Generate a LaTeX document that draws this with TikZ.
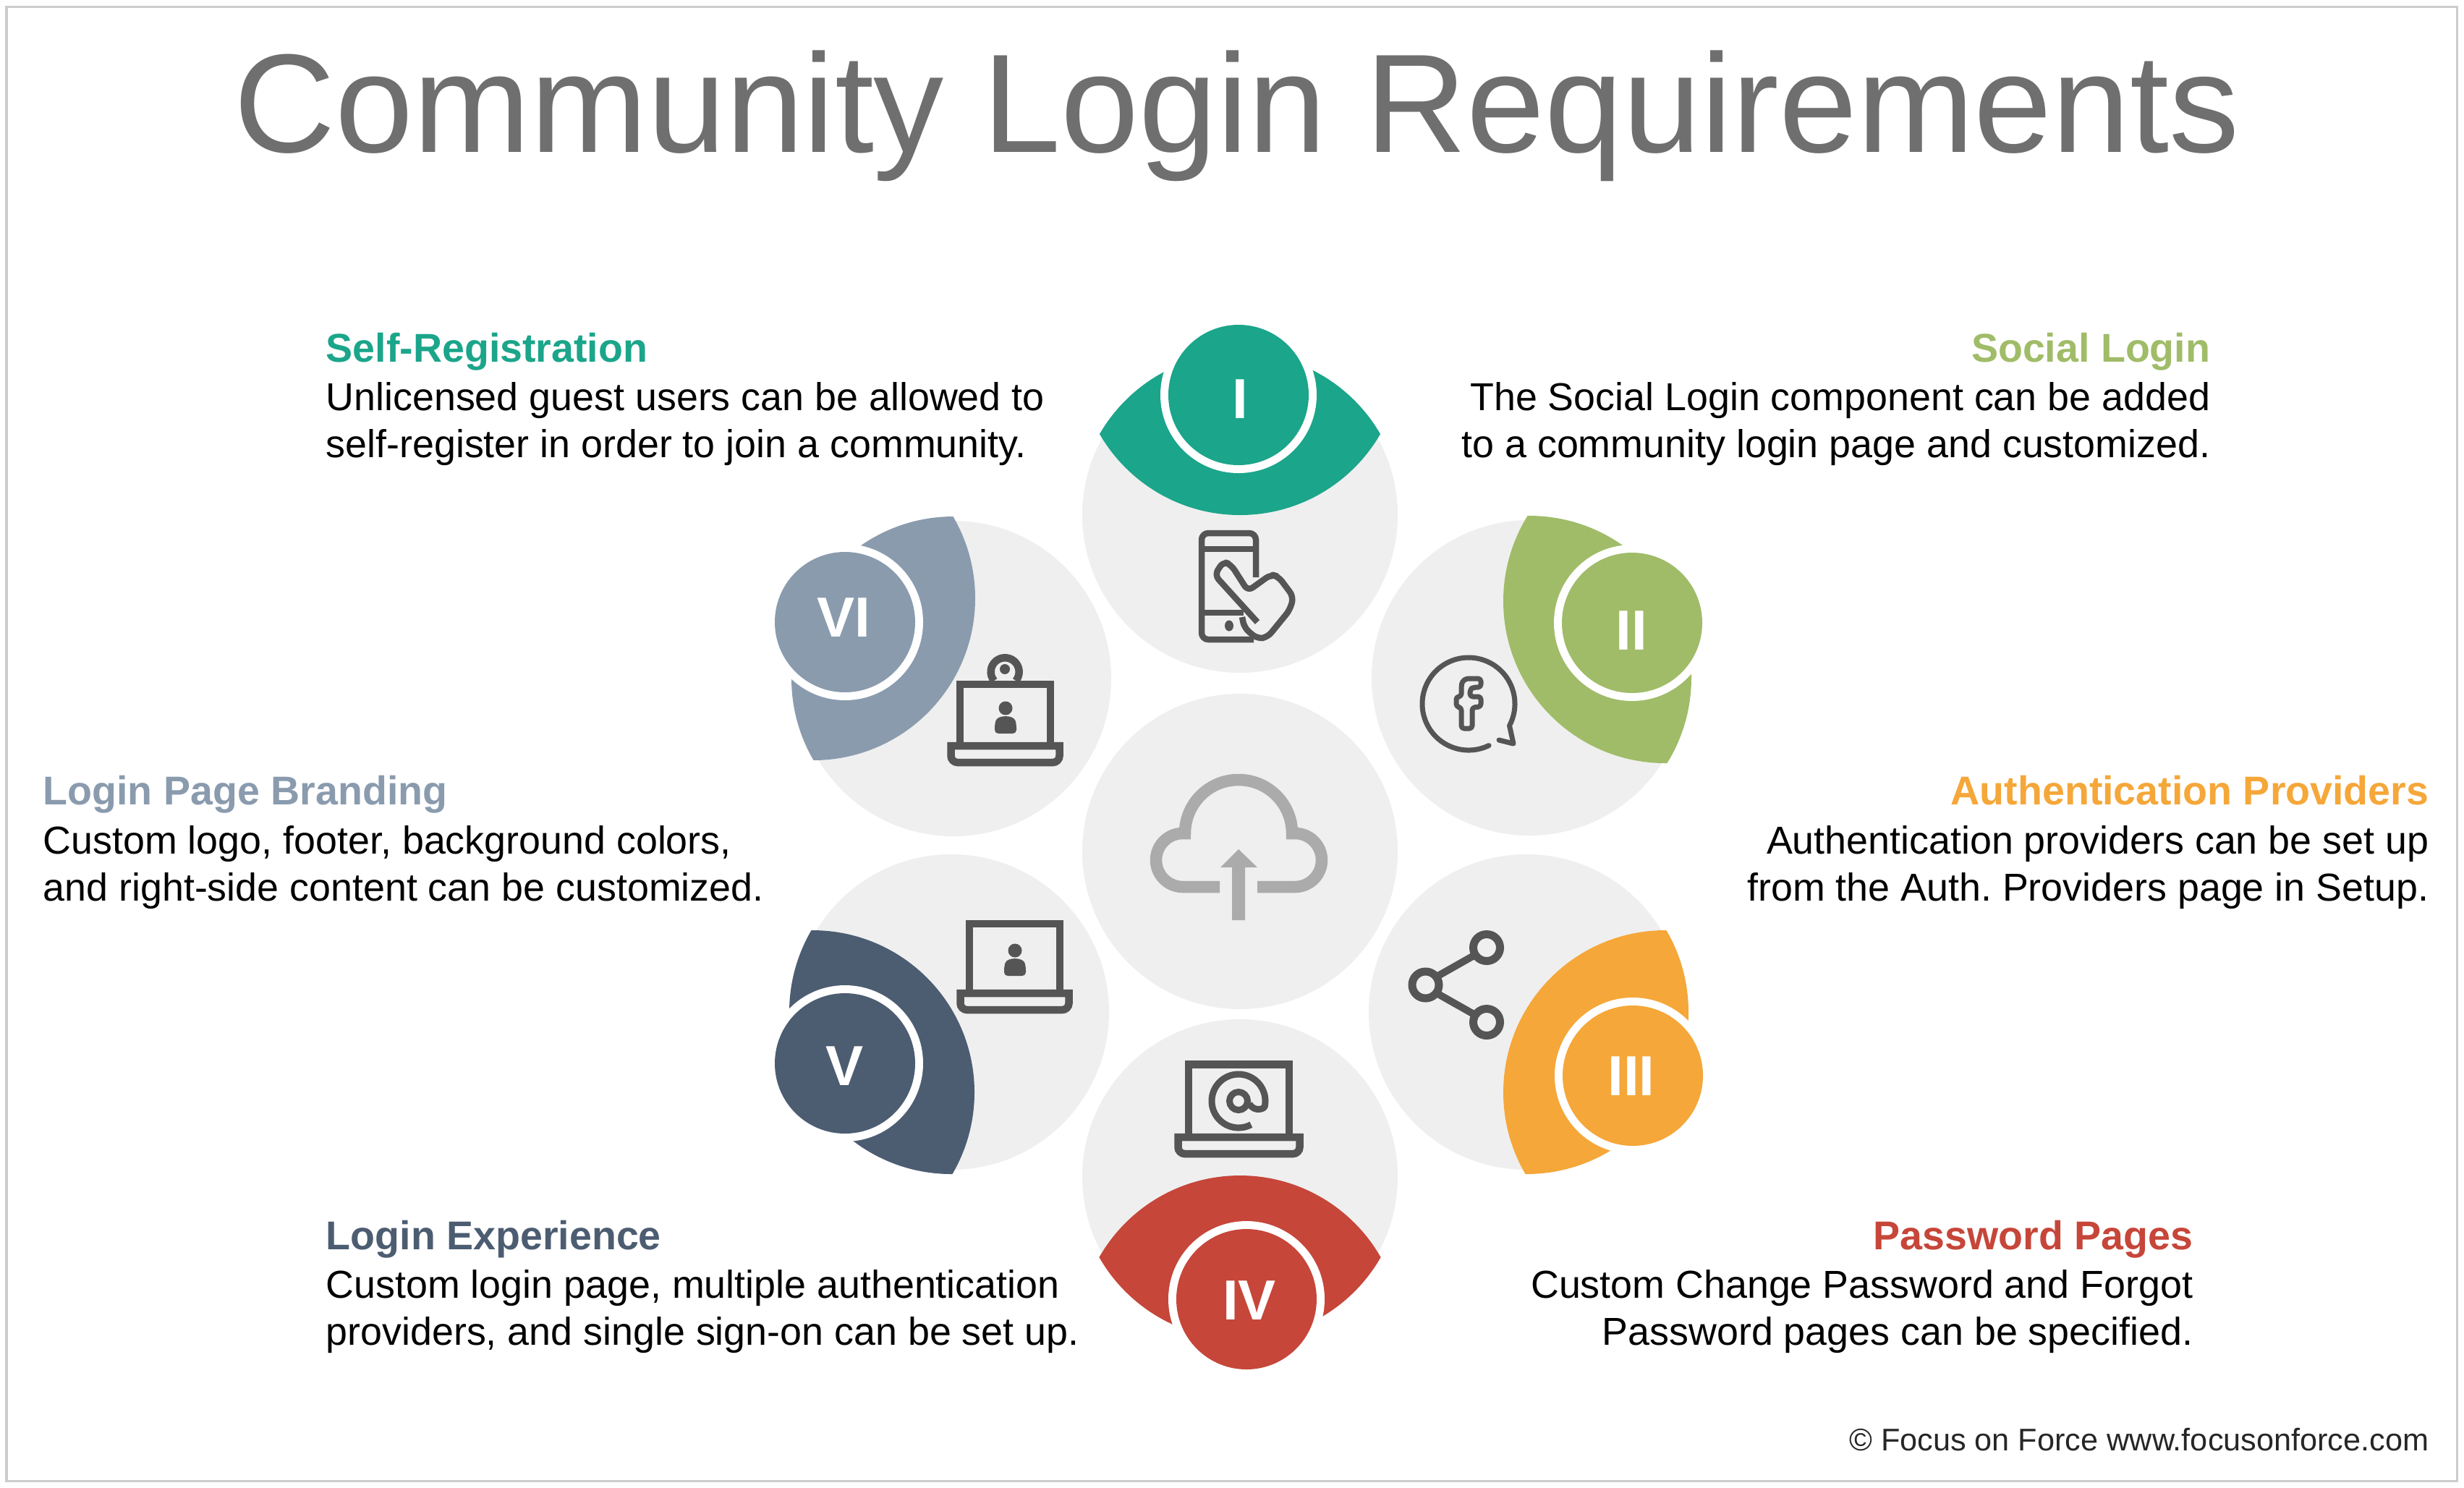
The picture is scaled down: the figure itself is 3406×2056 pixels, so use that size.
\documentclass[tikz,border=0pt]{standalone}
\usepackage{fontspec}
\setmainfont{Liberation Sans}
\definecolor{greenI}{HTML}{1BA58A}
\definecolor{greenII}{HTML}{A0BC68}
\definecolor{orangeIII}{HTML}{F5A739}
\definecolor{redIV}{HTML}{C64639}
\definecolor{navyV}{HTML}{4C5D72}
\definecolor{steelVI}{HTML}{8A9BAE}
\definecolor{discgray}{HTML}{EFEFEF}
\definecolor{icondark}{HTML}{555555}
\definecolor{cloudgray}{HTML}{ABABAB}
\definecolor{titlegray}{HTML}{6F6F6F}
\tikzset{
	iconline/.style={line width=0.085cm, color=icondark, line join=round},
	laptopline/.style={line width=0.105cm, color=icondark, line join=miter},
	cloudline/.style={line width=0.165cm, color=cloudgray, line join=miter},
	numeral/.style={text=white, inner sep=0pt, font=\fontsize{22.2pt}{24pt}\selectfont\bfseries},
	heading/.style={inner sep=0pt, anchor=base, font=\fontsize{15.8pt}{20pt}\selectfont\bfseries},
	blurb/.style={inner sep=0pt, text=black, font=\fontsize{15.3pt}{18.5pt}\selectfont},
}
% gray disc, lens cut from it, white ring and number disc
\def\leaf#1(#2)(#3)(#4){
	\fill[discgray] (#2) circle (218);
	\begin{scope}
		\clip (#2) circle (224);
		\fill[#1] (#3) circle (224);
	\end{scope}
	\fill[white] (#4) circle (108);
	\fill[#1] (#4) circle (97);
}
% centre x, top of keyboard y, half width, screen height, half width of keyboard
\def\laptopicon(#1,#2)(#3:#4:#5){
	\draw[laptopline] (#1-#3,#2) -- (#1-#3,#2-#4) -- (#1+#3,#2-#4) -- (#1+#3,#2);
	\draw[laptopline] (#1-#5,#2+28) [rounded corners=2.6pt] -- (#1+#5,#2+28) [sharp corners] -- (#1+#5,#2+5) -- (#1-#5,#2+5) [rounded corners=2.6pt] -- cycle;
}
\def\personicon(#1,#2){
	\fill[icondark] (#1,#2) circle (9.5);
	\fill[icondark,rounded corners=1.4pt] (#1-15,#2+35) -- (#1-15,#2+22) .. controls (#1-11,#2+9) and (#1+11,#2+9) .. (#1+15,#2+22) -- (#1+15,#2+35) -- cycle;
}

\begin{document}
\frenchspacing
\begin{tikzpicture}[x=0.01cm,y=-0.01cm]
	%%%%% FRAME %%%%%
	\useasboundingbox (0,0) rectangle (3406,2056);
	\draw[line width=0.03cm, color=black!20, fill=white] (9,9) rectangle (3396,2047);

	\node[inner sep=0pt, anchor=base, text=titlegray, font=\fontsize{55.2pt}{60pt}\selectfont] (title) at (1710,210) {Community Login Requirements};

	%%%%% LEAVES %%%%%
	\fill[discgray] (1714,1177) circle (218);
	\leaf{greenI}(1714,712)(1714,488)(1712,546)
	\leaf{greenII}(2114,937)(2302,831)(2256,861)
	\leaf{orangeIII}(2110,1399)(2302,1510)(2257,1487)
	\leaf{redIV}(1714,1627)(1714,1849)(1723,1796)
	\leaf{navyV}(1315,1399)(1123,1510)(1168,1470)
	\leaf{steelVI}(1318,938)(1124,827)(1168,860)

	\node[numeral] (numI) at (1714,552) {I};
	\node[numeral] (numII) at (2255,872) {II};
	\node[numeral] (numIII) at (2255,1488) {III};
	\node[numeral] (numIV) at (1727,1798) {IV};
	\node[numeral] (numV) at (1168,1474) {V};
	\node[numeral] (numVI) at (1166,854) {VI};

	%%%%% CLOUD %%%%%
	\draw[cloudline] (1686,1226) -- (1635,1226) arc (90:270:37) -- (1638,1152) arc (180:360:74) -- (1790,1152) arc (270:450:37) -- (1738,1226);
	\fill[cloudgray] (1703,1272) -- (1703,1199) -- (1687,1199) -- (1712,1174) -- (1738,1199) -- (1721,1199) -- (1721,1272) -- cycle;

	%%%%% PHONE AND HAND %%%%%
	\draw[iconline, rounded corners=2.6pt] (1736,798) -- (1736,737) -- (1661,737) -- (1661,884) -- (1733,884);
	\draw[iconline] (1661,759) -- (1736,759);
	\draw[iconline] (1661,847) -- (1719,847);
	\fill[icondark] (1699,865) ellipse (6 and 7.5);
	\draw[iconline, rounded corners=2.3pt] (1738,860) -- (1679,795) -- (1691,776) -- (1702,781) -- (1725,817) -- (1757,794) -- (1767,797) -- (1788,825) -- (1783,843) -- (1752,881) -- (1738,883) -- (1720,868) -- (1717,853);

	%%%%% SPEECH BUBBLE %%%%%
	\draw[iconline, line width=0.07cm, line cap=round] ([shift={(64:64)}]2030,973) arc (64:388:64) -- (2092,1028) -- (2072,1023);
	\draw[iconline, line width=0.07cm, rounded corners=1.1pt] (2020,1007) -- (2020,978) -- (2013,977) -- (2013,963) -- (2020,963) -- (2020,950) .. controls (2021,941) and (2026,938) .. (2034,938) -- (2047,938) -- (2047,950) -- (2037,950) -- (2032,953) -- (2032,963) -- (2047,963) -- (2047,977) -- (2035,978) -- (2035,1007) -- cycle;

	%%%%% SHARE %%%%%
	\draw[iconline, line width=0.11cm] (1970.5,1361.5) circle (18.5);
	\draw[iconline, line width=0.11cm] (2055,1310) circle (18.5);
	\draw[iconline, line width=0.11cm] (2055,1413) circle (18.5);
	\draw[iconline, line width=0.1cm] (1986,1350) -- (2039,1320);
	\draw[iconline, line width=0.1cm] (1986,1373) -- (2039,1403);

	%%%%% LAPTOPS %%%%%
	\laptopicon(1712.5,1567)(69.5:95.5:84)
	\draw[iconline, line width=0.09cm, line cap=butt] ([shift={(62:37)}]1712,1522) arc (62:370:37) .. controls (1749,1533) and (1734,1538) .. (1727,1526);
	\draw[iconline, line width=0.09cm] (1712,1522) circle (12.5);
	\laptopicon(1402.5,1368)(62.5:91:75)
	\personicon(1403,1314)
	\laptopicon(1389.5,1026)(62.5:80:75)
	\personicon(1390,979)
	\draw[laptopline] (1374,941) arc (141:399:19.5);
	\fill[icondark] (1389,925) circle (7);

	%%%%% TEXT %%%%%
	\node[heading, anchor=base west, text=greenI] (headI) at (450,500) {Self-Registration};
	\node[blurb, anchor=north west, align=left] (textI) at (450,528) {Unlicensed guest users can be allowed to\\self-register in order to join a community.};
	\node[heading, anchor=base east, text=greenII] (headII) at (3056,500) {Social Login};
	\node[blurb, anchor=north east, align=right] (textII) at (3056,528) {The Social Login component can be added\\to a community login page and customized.};
	\node[heading, anchor=base east, text=orangeIII] (headIII) at (3358,1112) {Authentication Providers};
	\node[blurb, anchor=north east, align=right] (textIII) at (3358,1141) {Authentication providers can be set up\\from the Auth. Providers page in Setup.};
	\node[heading, anchor=base east, text=redIV] (headIV) at (3032,1727) {Password Pages};
	\node[blurb, anchor=north east, align=right] (textIV) at (3032,1755) {Custom Change Password and Forgot\\Password pages can be specified.};
	\node[heading, anchor=base west, text=navyV] (headV) at (450,1727) {Login Experience};
	\node[blurb, anchor=north west, align=left] (textV) at (450,1755) {Custom login page, multiple authentication\\providers, and single sign-on can be set up.};
	\node[heading, anchor=base west, text=steelVI] (headVI) at (59,1112) {Login Page Branding};
	\node[blurb, anchor=north west, align=left] (textVI) at (59,1141) {Custom logo, footer, background colors,\\and right-side content can be customized.};

	\node[inner sep=0pt, anchor=base east, text=black!85, font=\fontsize{12.3pt}{14pt}\selectfont] (credit) at (3358,2005) {© Focus on Force www.focusonforce.com};
	%%%%% END %%%%%
\end{tikzpicture}
\end{document}
